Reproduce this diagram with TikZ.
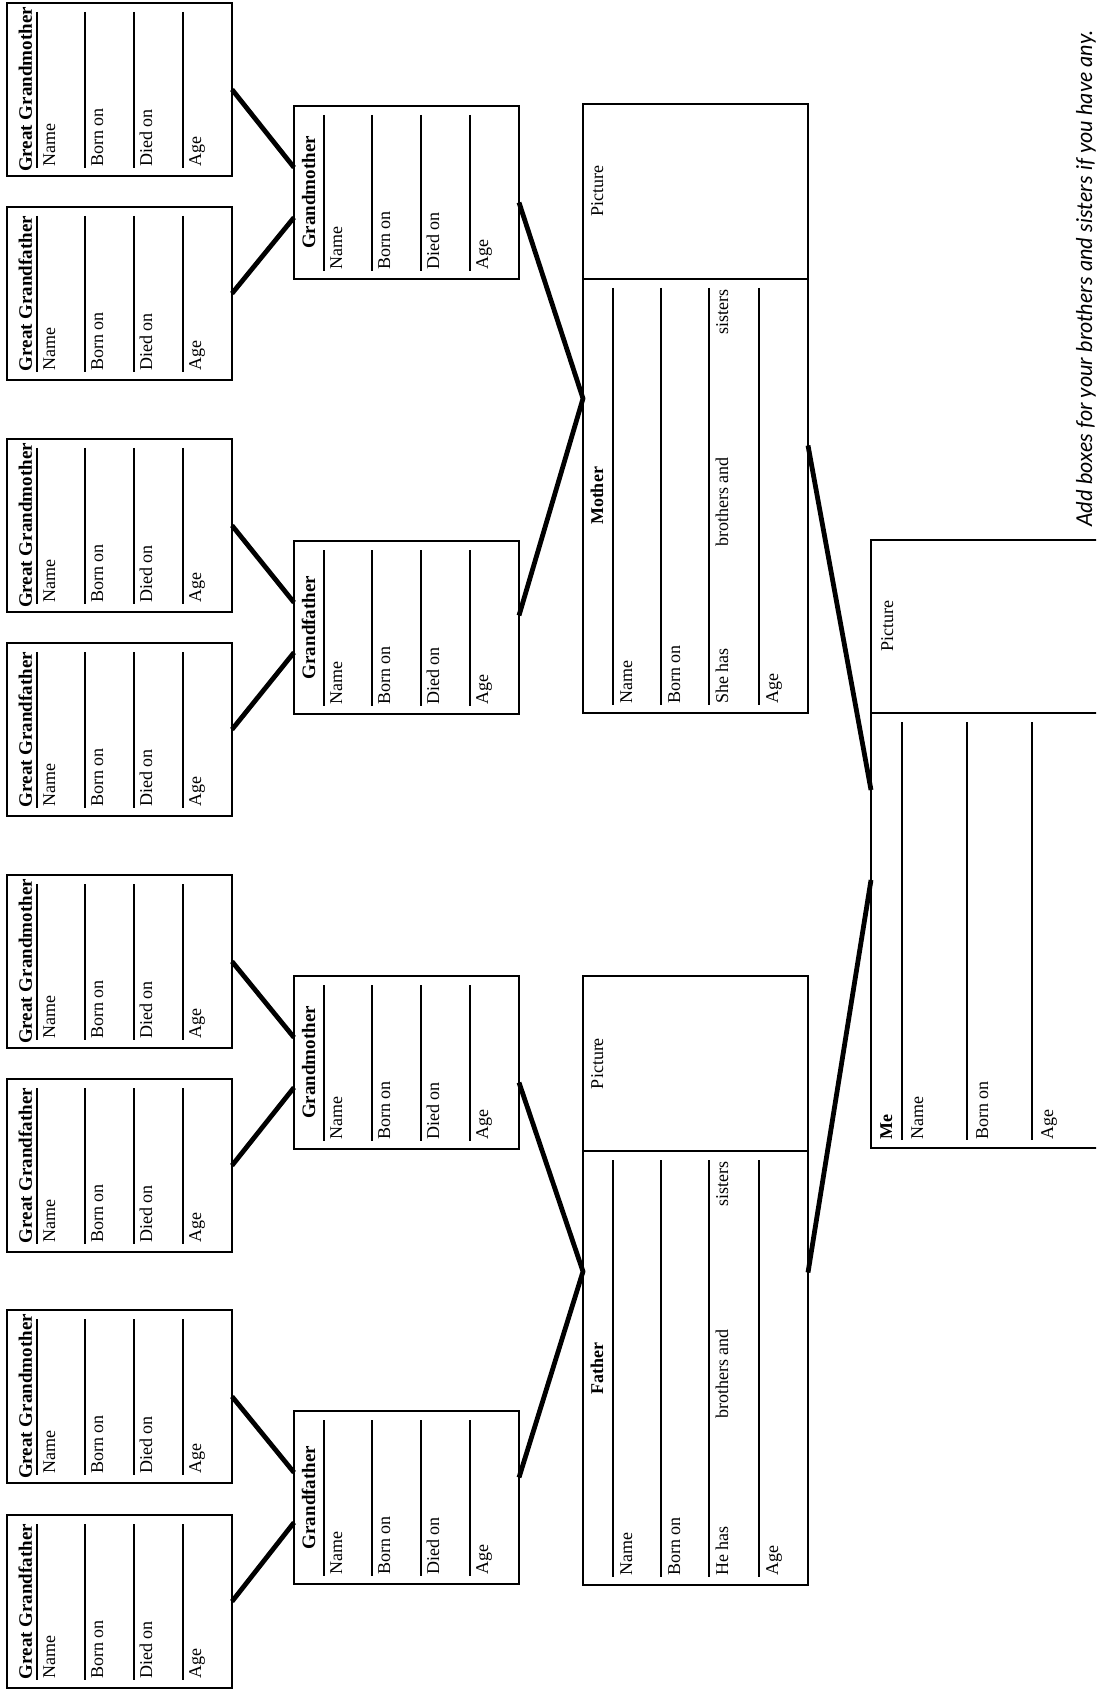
\documentclass[tikz,border=0pt]{standalone}
\usepackage{fontspec}
\setmainfont{Liberation Serif}
\newfontfamily\notefont{Lato}
\usetikzlibrary{calc}
\tikzset{
 boxnode/.style={draw, line width=0.8pt, inner sep=0pt, outer sep=0pt, rectangle},
 rule/.style={line width=0.6pt},
 lab/.style={rotate=90, inner sep=0pt, font=\fontsize{9}{10}\selectfont},
 ttl/.style={rotate=90, inner sep=0pt, font=\bfseries\fontsize{9.5}{10}\selectfont},
 pttl/.style={rotate=90, inner sep=0pt, font=\bfseries\fontsize{9}{10}\selectfont},
 conn/.style={line width=2.4pt, line join=round},
 note/.style={rotate=90, inner sep=0pt, font=\notefont\itshape\fontsize{10.9}{12}\selectfont},
}
% #1 name, #2 title, #3 left, #4 top, #5 title baseline offset
\newcommand\ancbox[5]{%
 \node[boxnode, minimum width=112.5pt, minimum height=86.5pt, anchor=north west] (#1) at (#3,#4) {};
 \foreach \dx/\lab in {30/Name,78/Born on,127/Died on,176/Age}{%
   \draw[rule] (#3+\dx, #4+9) -- (#3+\dx, #4+165);
   \node[lab, anchor=base west] at (#3+\dx+18, #4+164) {\lab};
 }
 \node[ttl, anchor=base] at (#3+#5, #4+86.5) {#2};
}
% #1 name, #2 title, #3 left, #4 top, #5 pronoun
\newcommand\parentbox[5]{%
 \node[boxnode, minimum width=112.5pt, minimum height=304.5pt, anchor=north west] (#1) at (#3,#4) {};
 \draw[line width=0.8pt] (#3, #4+175) -- (#3+225, #4+175);
 \foreach \dx/\lab in {30/Name,78/Born on,126/#5,176/Age}{%
   \draw[rule] (#3+\dx, #4+184) -- (#3+\dx, #4+601);
   \node[lab, anchor=base west] at (#3+\dx+19, #4+600) {\lab};
 }
 \node[lab, anchor=base] at (#3+145, #4+398) {brothers and};
 \node[lab, anchor=base east] at (#3+145, #4+185) {sisters};
 \node[pttl, anchor=base] at (#3+20, #4+392) {#2};
 \node[lab, anchor=base] at (#3+20, #4+87.5) {Picture};
}
\begin{document}
\begin{tikzpicture}[x=0.5pt,y=-0.5pt]
\useasboundingbox (0,0) rectangle (1096,1689);
\fill[white] (0,0) rectangle (1096,1689);
\clip (0,0) rectangle (1096,1689);

% great grandparents
\ancbox{gg1}{Great Grandmother}{7}{3}{25}
\ancbox{gg2}{Great Grandfather}{7}{207}{25}
\ancbox{gg3}{Great Grandmother}{7}{439}{25}
\ancbox{gg4}{Great Grandfather}{7}{643}{25}
\ancbox{gg5}{Great Grandmother}{7}{875}{25}
\ancbox{gg6}{Great Grandfather}{7}{1079}{25}
\ancbox{gg7}{Great Grandmother}{7}{1310}{25}
\ancbox{gg8}{Great Grandfather}{7}{1515}{25}

% grandparents
\ancbox{gm1}{Grandmother}{294}{106}{21}
\ancbox{gf1}{Grandfather}{294}{541}{21}
\ancbox{gm2}{Grandmother}{294}{976}{21}
\ancbox{gf2}{Grandfather}{294}{1411}{21}

% parents
\parentbox{mother}{Mother}{583}{104}{She has}
\parentbox{father}{Father}{583}{976}{He has}

% me (its right part runs off the page)
\node[boxnode, minimum width=130pt, minimum height=304pt, anchor=north west] (me) at (871,540) {};
\draw[line width=0.8pt] (871,713) -- (1140,713);
\foreach \dx/\lab in {31/Name,96/Born on,161/Age}{%
  \draw[rule] (871+\dx, 722) -- (871+\dx, 1140);
  \node[lab, anchor=base west] at (871+\dx+21, 1140) {\lab};
}
\node[pttl, anchor=base west] at (892, 1140) {Me};
\node[lab, anchor=base] at (893, 626.5) {Picture};

% note
\node[note, anchor=base west] (note) at (1092, 527) {Add boxes for your brothers and sisters if you have any.};

% connectors great grandparents -> grandparents
\draw[conn] (gg1.east) -- ($(gm1.west)+(0,-25)$);
\draw[conn] (gg2.east) -- ($(gm1.west)+(0,25)$);
\draw[conn] (gg3.east) -- ($(gf1.west)+(0,-25)$);
\draw[conn] (gg4.east) -- ($(gf1.west)+(0,25)$);
\draw[conn] (gg5.east) -- ($(gm2.west)+(0,-25)$);
\draw[conn] (gg6.east) -- ($(gm2.west)+(0,25)$);
\draw[conn] (gg7.east) -- ($(gf2.west)+(0,-25)$);
\draw[conn] (gg8.east) -- ($(gf2.west)+(0,25)$);

% grandparents -> parents
\draw[conn] ($(gm1.east)+(0,10)$) -- ($(mother.west)+(0,-10)$) -- ($(gf1.east)+(0,-12)$);
\draw[conn] ($(gm2.east)+(0,20)$) -- ($(father.west)+(0,-9)$) -- ($(gf2.east)+(0,-20)$);

% parents -> me
\draw[conn] ($(mother.east)+(0,37)$) -- ($(me.west)+(0,-54)$);
\draw[conn] ($(father.east)+(0,-8)$) -- ($(me.west)+(0,36)$);
\end{tikzpicture}
\end{document}
